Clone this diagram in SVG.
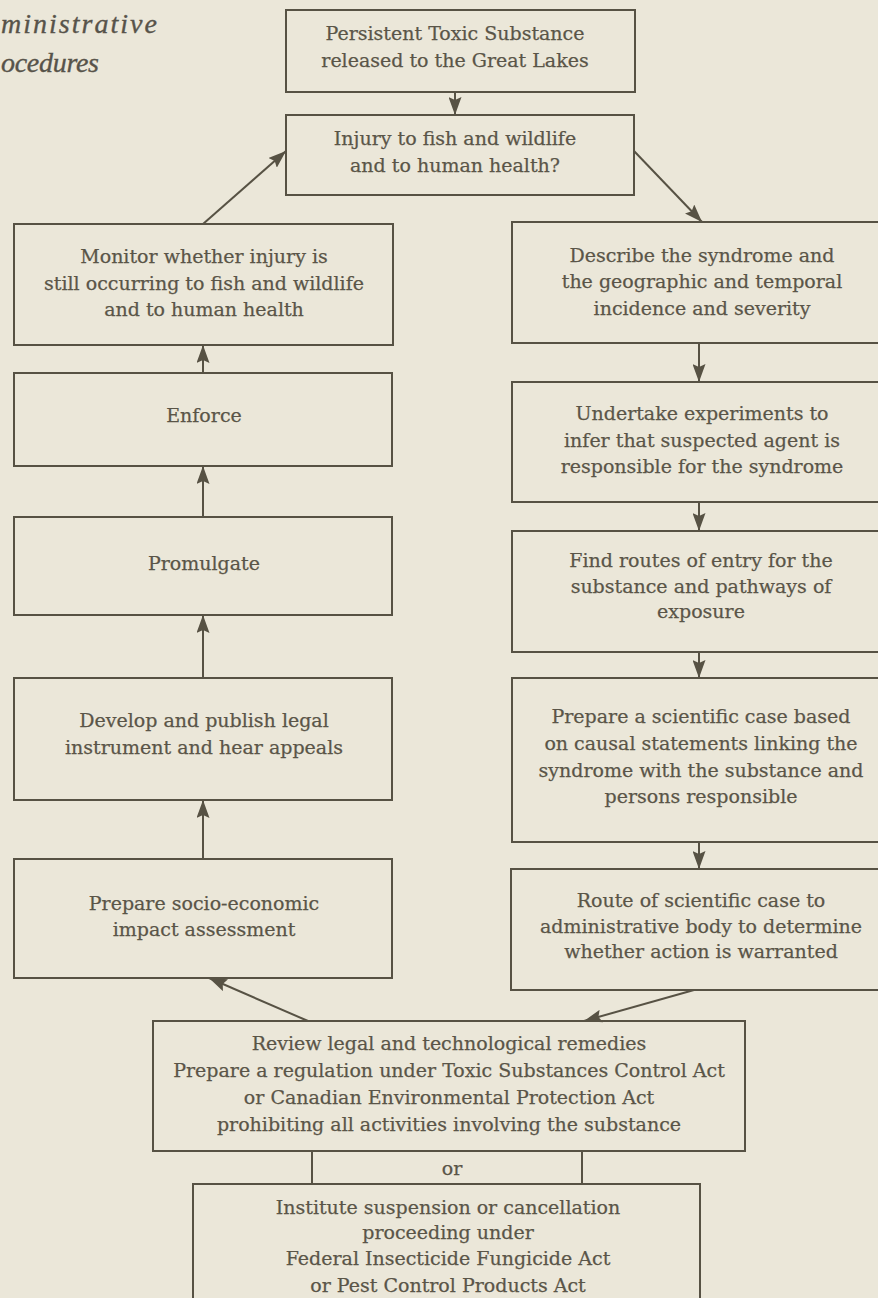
<svg xmlns="http://www.w3.org/2000/svg" width="878" height="1298" viewBox="0 0 878 1298">
<style>
.bg{fill:#ebe7d9}
.box{fill:none;stroke:#575244;stroke-width:2}
.t{font-family:"DejaVu Serif","Liberation Serif",serif;font-size:19px;fill:#5a5548;stroke:#5a5548;stroke-width:0.25;text-anchor:middle}
.h{font-family:"Liberation Serif","DejaVu Serif",serif;font-style:italic;font-size:28px;fill:#57534a;stroke:#57534a;stroke-width:0.35}
.c{fill:none;stroke:#575244;stroke-width:2}
</style>
<defs>
<marker id="ah" viewBox="0 0 18 13" refX="18" refY="6.5" markerWidth="18" markerHeight="13" orient="auto" markerUnits="userSpaceOnUse">
<path d="M0,0 L18,6.5 L0,13 L3,6.5 Z" fill="#575244"/>
</marker>
</defs>
<rect class="bg" x="0" y="0" width="878" height="1298"/>
<g id="heading">
<text class="h" x="1" y="33" textLength="156" lengthAdjust="spacing">ministrative</text>
<text class="h" x="1" y="72" textLength="98" lengthAdjust="spacing">ocedures</text>
</g>
<g id="connectors">
<line class="c" x1="455" y1="92" x2="455" y2="115" marker-end="url(#ah)"/>
<line class="c" x1="634" y1="151" x2="702" y2="222" marker-end="url(#ah)"/>
<line class="c" x1="203" y1="224" x2="286" y2="151" marker-end="url(#ah)"/>
<line class="c" x1="203" y1="373" x2="203" y2="345" marker-end="url(#ah)"/>
<line class="c" x1="203" y1="517" x2="203" y2="466" marker-end="url(#ah)"/>
<line class="c" x1="203" y1="678" x2="203" y2="615" marker-end="url(#ah)"/>
<line class="c" x1="203" y1="859" x2="203" y2="800" marker-end="url(#ah)"/>
<line class="c" x1="699" y1="343" x2="699" y2="382" marker-end="url(#ah)"/>
<line class="c" x1="699" y1="502" x2="699" y2="531" marker-end="url(#ah)"/>
<line class="c" x1="699" y1="652" x2="699" y2="678" marker-end="url(#ah)"/>
<line class="c" x1="699" y1="842" x2="699" y2="869" marker-end="url(#ah)"/>
<line class="c" x1="694" y1="990" x2="584" y2="1021" marker-end="url(#ah)"/>
<line class="c" x1="308" y1="1021" x2="209" y2="978" marker-end="url(#ah)"/>
<line class="c" x1="312" y1="1151" x2="312" y2="1184"/>
<line class="c" x1="582" y1="1151" x2="582" y2="1184"/>
<text class="t" x="452" y="1175">or</text>
</g>
<g id="n-persistent">
<rect class="box" x="286" y="10" width="349" height="82"/>
<text class="t" x="455" y="40">Persistent Toxic Substance</text>
<text class="t" x="455" y="67">released to the Great Lakes</text>
</g>
<g id="n-injury">
<rect class="box" x="286" y="115" width="348" height="80"/>
<text class="t" x="455" y="145">Injury to fish and wildlife</text>
<text class="t" x="455" y="172">and to human health?</text>
</g>
<g id="n-monitor">
<rect class="box" x="14" y="224" width="379" height="121"/>
<text class="t" x="204" y="263">Monitor whether injury is</text>
<text class="t" x="204" y="290">still occurring to fish and wildlife</text>
<text class="t" x="204" y="316">and to human health</text>
</g>
<g id="n-enforce">
<rect class="box" x="14" y="373" width="378" height="93"/>
<text class="t" x="204" y="422">Enforce</text>
</g>
<g id="n-promulgate">
<rect class="box" x="14" y="517" width="378" height="98"/>
<text class="t" x="204" y="570">Promulgate</text>
</g>
<g id="n-develop">
<rect class="box" x="14" y="678" width="378" height="122"/>
<text class="t" x="204" y="727">Develop and publish legal</text>
<text class="t" x="204" y="754">instrument and hear appeals</text>
</g>
<g id="n-socio">
<rect class="box" x="14" y="859" width="378" height="119"/>
<text class="t" x="204" y="910">Prepare socio-economic</text>
<text class="t" x="204" y="936">impact assessment</text>
</g>
<g id="n-describe">
<rect class="box" x="512" y="222" width="400" height="121"/>
<text class="t" x="702" y="262">Describe the syndrome and</text>
<text class="t" x="702" y="288">the geographic and temporal</text>
<text class="t" x="702" y="315">incidence and severity</text>
</g>
<g id="n-undertake">
<rect class="box" x="512" y="382" width="400" height="120"/>
<text class="t" x="702" y="420">Undertake experiments to</text>
<text class="t" x="702" y="447">infer that suspected agent is</text>
<text class="t" x="702" y="473">responsible for the syndrome</text>
</g>
<g id="n-routes">
<rect class="box" x="512" y="531" width="400" height="121"/>
<text class="t" x="701" y="567">Find routes of entry for the</text>
<text class="t" x="701" y="593">substance and pathways of</text>
<text class="t" x="701" y="618">exposure</text>
</g>
<g id="n-case">
<rect class="box" x="512" y="678" width="400" height="164"/>
<text class="t" x="701" y="723">Prepare a scientific case based</text>
<text class="t" x="701" y="750">on causal statements linking the</text>
<text class="t" x="701" y="777">syndrome with the substance and</text>
<text class="t" x="701" y="803">persons responsible</text>
</g>
<g id="n-route">
<rect class="box" x="511" y="869" width="400" height="121"/>
<text class="t" x="701" y="907">Route of scientific case to</text>
<text class="t" x="701" y="933">administrative body to determine</text>
<text class="t" x="701" y="958">whether action is warranted</text>
</g>
<g id="n-review">
<rect class="box" x="153" y="1021" width="592" height="130"/>
<text class="t" x="449" y="1050">Review legal and technological remedies</text>
<text class="t" x="449" y="1077">Prepare a regulation under Toxic Substances Control Act</text>
<text class="t" x="449" y="1104">or Canadian Environmental Protection Act</text>
<text class="t" x="449" y="1131">prohibiting all activities involving the substance</text>
</g>
<g id="n-institute">
<rect class="box" x="193" y="1184" width="507" height="130"/>
<text class="t" x="448" y="1214">Institute suspension or cancellation</text>
<text class="t" x="448" y="1239">proceeding under</text>
<text class="t" x="448" y="1265">Federal Insecticide Fungicide Act</text>
<text class="t" x="448" y="1292">or Pest Control Products Act</text>
</g>
</svg>
